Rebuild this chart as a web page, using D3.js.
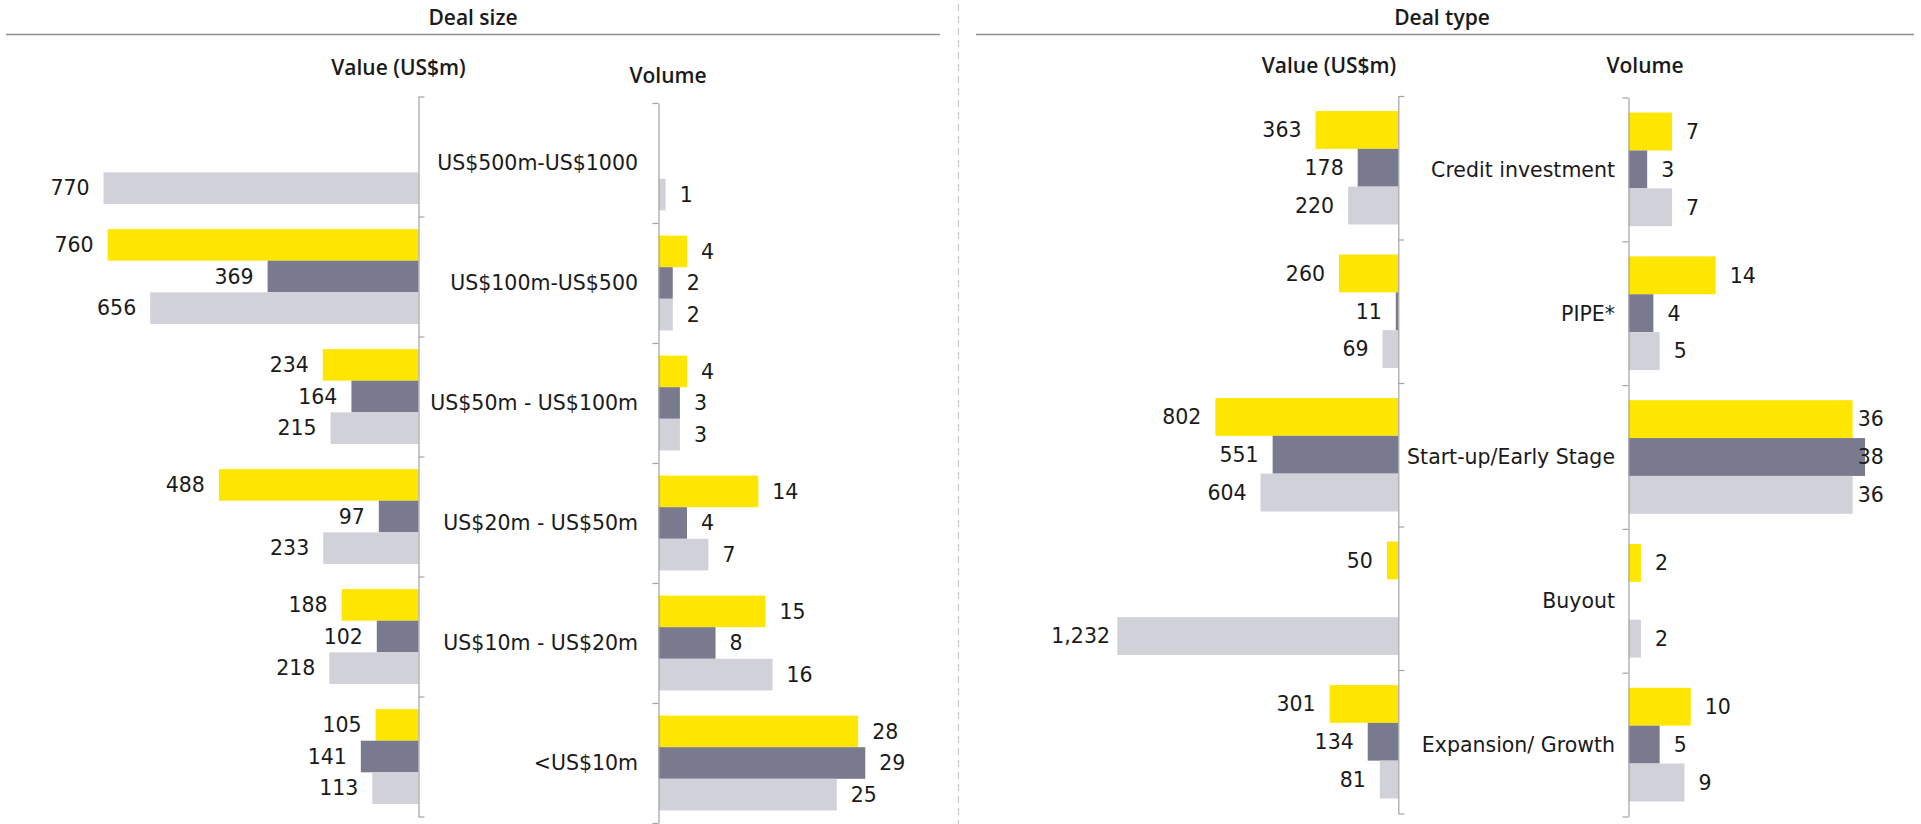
<!DOCTYPE html>
<html>
<head>
<meta charset="utf-8">
<script src="https://cdn.jsdelivr.net/npm/d3@7"></script>
<style>
  html, body { margin: 0; padding: 0; background: #ffffff; }
  svg { display: block; }
</style>
</head>
<body>
<svg id="chart" width="1921" height="824"></svg>
<script>
// ---- Data -------------------------------------------------------------
const seriesKeys = ["latest", "previous", "earlier"];
const seriesColors = ["#FFE600", "#7A7A8F", "#D1D1DA"];

// Deal size
const sizeCategories = ["US$500m-US$1000", "US$100m-US$500", "US$50m - US$100m",
                        "US$20m - US$50m", "US$10m - US$20m", "<US$10m"];
const sizeValueLatest   = [null, 760, 234, 488, 188, 105];
const sizeValuePrevious = [null, 369, 164, 97, 102, 141];
const sizeValueEarlier  = [770, 656, 215, 233, 218, 113];
const sizeVolumeLatest   = [null, 4, 4, 14, 15, 28];
const sizeVolumePrevious = [null, 2, 3, 4, 8, 29];
const sizeVolumeEarlier  = [1, 2, 3, 7, 16, 25];

// Deal type
const typeCategories = ["Credit investment", "PIPE*", "Start-up/Early Stage", "Buyout", "Expansion/ Growth"];
const typeValueLatest   = [363, 260, 802, 50, 301];
const typeValuePrevious = [178, 11, 551, null, 134];
const typeValueEarlier  = [220, 69, 604, 1232, 81];
const typeVolumeLatest   = [7, 14, 36, 2, 10];
const typeVolumePrevious = [3, 4, 38, null, 5];
const typeVolumeEarlier  = [7, 5, 36, 2, 9];

// ---- Drawing ----------------------------------------------------------
const svg = d3.select("#chart");
const TITLE_FONT = "'Open Sans', 'Liberation Sans', sans-serif";
const LABEL_FONT = "'DejaVu Sans', Verdana, sans-serif";
const TEXT_COLOR = "#1a1a1a";
const AXIS_COLOR = "#a3a3a3";
const fmt = d3.format(",");

function rowsFrom(categories, seriesArrays) {
  const rows = [];
  categories.forEach((c, i) => {
    seriesArrays.forEach((arr, j) => {
      const v = arr[i];
      if (v !== null && v !== undefined) rows.push({ category: c, key: seriesKeys[j], idx: j, value: v });
    });
  });
  return rows;
}

// One bar block: bars grow away from the axis at axisX (dir -1 = leftwards, +1 = rightwards)
function drawBlock(cfg) {
  const g = svg.append("g");
  const n = cfg.categories.length;
  const x = d3.scaleLinear().domain([0, cfg.max]).range([cfg.axisX, cfg.axisX + cfg.dir * cfg.width]);
  const y = d3.scaleBand().domain(cfg.categories).range([cfg.y0, cfg.y1]).padding(0);
  const sub = d3.scaleBand().domain(seriesKeys).range([0, y.bandwidth()])
    .paddingInner(0).paddingOuter(0.398);
  const color = d3.scaleOrdinal().domain(seriesKeys).range(seriesColors);
  const rows = rowsFrom(cfg.categories, cfg.series);

  g.selectAll("rect.bar").data(rows).join("rect")
    .attr("class", "bar")
    .attr("x", d => Math.min(x(0), x(d.value)))
    .attr("width", d => Math.abs(x(d.value) - x(0)))
    .attr("y", d => y(d.category) + sub(d.key))
    .attr("height", sub.bandwidth())
    .attr("fill", d => color(d.key));

  g.selectAll("text.val").data(rows).join("text")
    .attr("class", "val")
    .attr("x", d => {
      let px = x(d.value) + cfg.dir * cfg.gap;
      if (cfg.dir > 0 && cfg.labelMax !== undefined) px = Math.min(px, cfg.labelMax);
      if (cfg.dir < 0 && cfg.labelMin !== undefined) px = Math.max(px, cfg.labelMin);
      return px;
    })
    .attr("y", d => y(d.category) + sub(d.key) + sub.bandwidth() / 2)
    .attr("dy", "0.36em")
    .attr("text-anchor", cfg.dir < 0 ? "end" : "start")
    .attr("font-family", LABEL_FONT)
    .attr("font-size", 20.5)
    .attr("fill", TEXT_COLOR)
    .text(d => fmt(d.value));

  // category boundaries axis
  const edges = d3.scaleLinear().domain([0, n]).range([cfg.y0, cfg.y1]);
  const axis = (cfg.dir < 0 ? d3.axisRight(edges) : d3.axisLeft(edges))
    .tickValues(d3.range(n + 1)).tickFormat("").tickSizeInner(6).tickSizeOuter(0);
  const ag = g.append("g").attr("transform", `translate(${cfg.axisX},0)`).call(axis);
  ag.select(".domain").attr("stroke", AXIS_COLOR).attr("stroke-width", 1.2);
  ag.selectAll(".tick line").attr("stroke", AXIS_COLOR).attr("stroke-width", 1.2);

  return { y };
}

function drawCategoryLabels(categories, y0, y1, rightX) {
  const y = d3.scaleBand().domain(categories).range([y0, y1]).padding(0);
  svg.append("g").selectAll("text").data(categories).join("text")
    .attr("x", rightX)
    .attr("y", d => y(d) + y.bandwidth() / 2)
    .attr("dy", "0.36em")
    .attr("text-anchor", "end")
    .attr("font-family", LABEL_FONT)
    .attr("font-size", 20.5)
    .attr("fill", TEXT_COLOR)
    .text(d => d);
}

function title(text, x, y, size) {
  svg.append("text")
    .attr("x", x).attr("y", y)
    .attr("text-anchor", "middle")
    .attr("font-family", TITLE_FONT)
    .attr("font-size", size)
    .attr("font-weight", 600)
    .attr("fill", TEXT_COLOR)
    .text(text);
}

// Section headers and rules
title("Deal size", 473, 25, 21);
title("Deal type", 1442, 25, 21);
svg.append("line").attr("x1", 6).attr("x2", 940).attr("y1", 34.5).attr("y2", 34.5)
  .attr("stroke", "#8f8f8f").attr("stroke-width", 1.5);
svg.append("line").attr("x1", 976).attr("x2", 1914).attr("y1", 34.5).attr("y2", 34.5)
  .attr("stroke", "#8f8f8f").attr("stroke-width", 1.5);
svg.append("line").attr("x1", 958.5).attr("x2", 958.5).attr("y1", 4).attr("y2", 824)
  .attr("stroke", "#c9c9c9").attr("stroke-width", 1.2).attr("stroke-dasharray", "7,5");

// Column titles
title("Value (US$m)", 398.5, 75, 21);
title("Volume", 668, 83, 21);
title("Value (US$m)", 1329, 73, 21);
title("Volume", 1645, 73, 21);

// Deal size: value (left) and volume (right)
drawBlock({
  categories: sizeCategories,
  series: [sizeValueLatest, sizeValuePrevious, sizeValueEarlier],
  axisX: 418.5, dir: -1, max: 1000, width: 409,
  y0: 96.5, y1: 816.5, gap: 14
});
drawBlock({
  categories: sizeCategories,
  series: [sizeVolumeLatest, sizeVolumePrevious, sizeVolumeEarlier],
  axisX: 658.5, dir: 1, max: 30, width: 213.9,
  y0: 103, y1: 823, gap: 14
});
drawCategoryLabels(sizeCategories, 103, 823, 638);

// Deal type: value (left) and volume (right)
drawBlock({
  categories: typeCategories,
  series: [typeValueLatest, typeValuePrevious, typeValueEarlier],
  axisX: 1398.3, dir: -1, max: 1400, width: 319.3,
  y0: 96, y1: 813.5, gap: 14, labelMin: 1110
});
drawBlock({
  categories: typeCategories,
  series: [typeVolumeLatest, typeVolumePrevious, typeVolumeEarlier],
  axisX: 1628.5, dir: 1, max: 40, width: 249,
  y0: 97.5, y1: 816.5, gap: 14, labelMax: 1857.7
});
drawCategoryLabels(typeCategories, 97.5, 816.5, 1615);
</script>
</body>
</html>
